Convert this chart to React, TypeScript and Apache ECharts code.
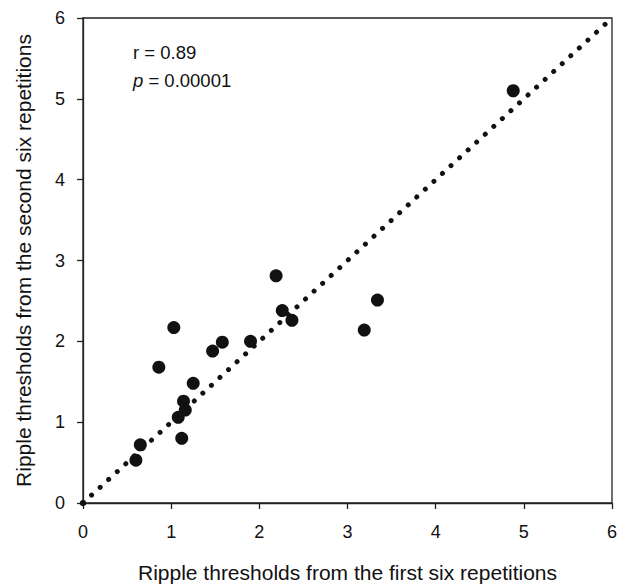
import React, { useEffect, useRef } from "react";
import * as echarts from "echarts";

const firstSix: number[] = [2.19, 1.03, 0.86, 1.47, 1.58, 1.90, 2.26, 2.37, 3.19, 3.34, 1.25, 1.14, 1.16, 1.08, 1.12, 0.65, 0.60, 4.88];
const secondSix: number[] = [2.81, 2.17, 1.68, 1.88, 1.99, 2.00, 2.38, 2.26, 2.14, 2.51, 1.48, 1.26, 1.15, 1.06, 0.80, 0.72, 0.53, 5.10];
const identityLine: number[][] = [[0, 0], [6, 6]];
const axisTicks: number[] = [0, 1, 2, 3, 4, 5, 6];
const rText = "r = 0.89";
const pValue = "0.00001";
const xTitle = "Ripple thresholds from the first six repetitions";
const yTitle = "Ripple thresholds from the second six repetitions";

const FONT = "'Liberation Sans', Arial, sans-serif";

export default function App() {
  const ref = useRef<HTMLDivElement>(null);
  useEffect(() => {
    if (!ref.current) return;
    const chart = echarts.init(ref.current, null, { renderer: "svg" });
    const points = firstSix.map((x, i) => [x, secondSix[i]]);
    const axisCommon = {
      type: "value" as const,
      min: axisTicks[0],
      max: axisTicks[axisTicks.length - 1],
      interval: 1,
      splitLine: { show: false },
      axisLine: { show: true, lineStyle: { color: "#222", width: 1.3 } },
      axisTick: { show: true, inside: false, length: 6, lineStyle: { color: "#222", width: 1.3 } },
      nameLocation: "middle" as const,
      nameTextStyle: { fontFamily: FONT, fontSize: 21, color: "#111" },
      z: 0,
    };
    chart.setOption({
      animation: false,
      backgroundColor: "#fff",
      grid: { left: 83, right: 6, top: 18, bottom: 83, show: true, borderColor: "#222", borderWidth: 1.3, backgroundColor: "transparent" },
      xAxis: {
        ...axisCommon,
        name: xTitle,
        nameGap: 59,
        axisLabel: { fontFamily: FONT, fontSize: 18, color: "#111", margin: 20 },
      },
      yAxis: {
        ...axisCommon,
        name: yTitle,
        nameGap: 49,
        axisLabel: { fontFamily: FONT, fontSize: 18, color: "#111", margin: 18 },
      },
      graphic: [
        {
          type: "text",
          left: 133,
          top: 43,
          style: { text: rText, fontFamily: FONT, fontSize: 18.5, fill: "#111" },
        },
        {
          type: "text",
          left: 133,
          top: 71,
          style: {
            text: "{i|p} = " + pValue,
            fontFamily: FONT,
            fontSize: 18.5,
            fill: "#111",
            rich: { i: { fontStyle: "italic", fontFamily: FONT, fontSize: 18.5, fill: "#111" } },
          },
        },
      ],
      series: [
        {
          type: "line",
          data: identityLine,
          symbol: "none",
          silent: true,
          clip: false,
          lineStyle: { color: "#111", width: 5, type: [0.01, 11.6], dashOffset: 0, cap: "round" },
          z: 5,
        },
        {
          type: "scatter",
          data: [identityLine[0]],
          symbol: "circle",
          symbolSize: 6.5,
          clip: false,
          silent: true,
          itemStyle: { color: "#111", opacity: 1 },
          z: 7,
        },
        {
          type: "scatter",
          data: points,
          symbol: "circle",
          symbolSize: 13,
          itemStyle: { color: "#111", opacity: 1 },
          z: 6,
        },
      ],
    });
    return () => chart.dispose();
  }, []);
  return <div ref={ref} style={{ position: "fixed", left: 0, top: 0, width: 620, height: 588 }} />;
}
